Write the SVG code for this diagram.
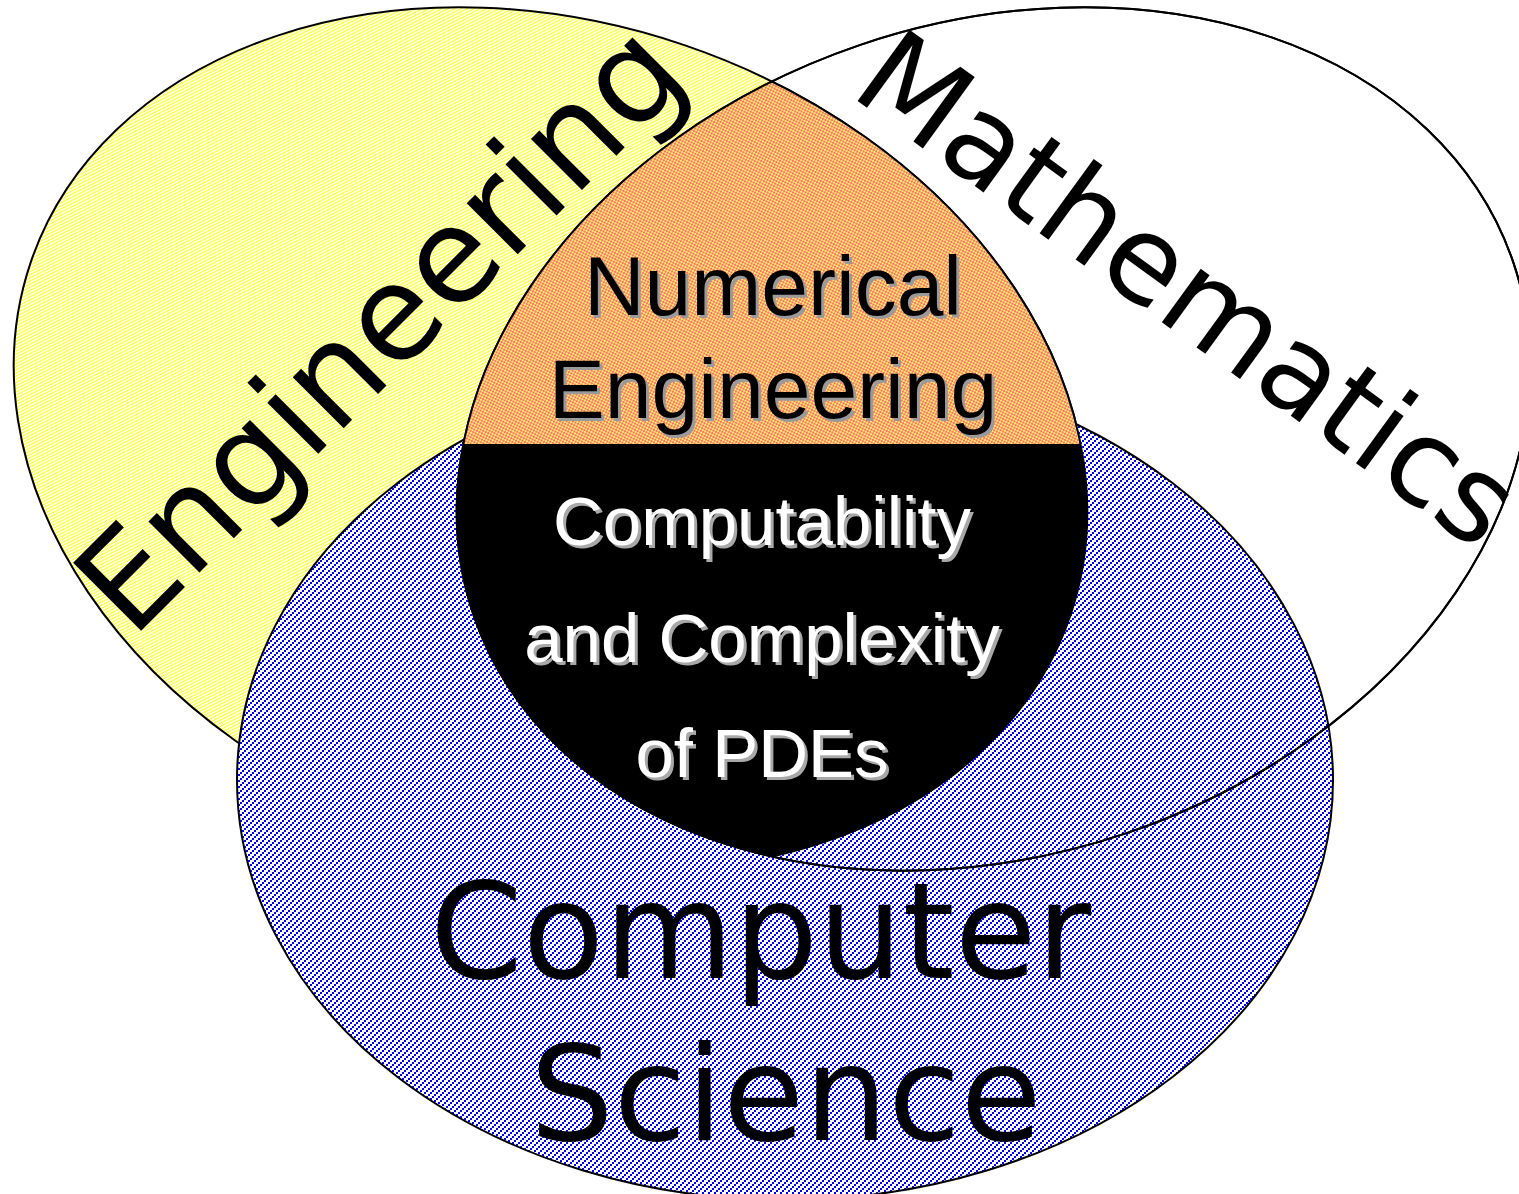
<svg xmlns="http://www.w3.org/2000/svg" width="1519" height="1194" viewBox="0 0 1519 1194">
<style>
.outline{fill:none;stroke:#000;stroke-width:2}
.big{font-family:"DejaVu Sans",Verdana,sans-serif;fill:#000}
.inner{font-family:"Liberation Sans",Arial,sans-serif;text-anchor:middle}
.shadowDark{fill:#9a9a9a}
.shadowLight{fill:#a8a8a8}
</style>
<defs>
<pattern id="pYellow" width="4" height="4" patternUnits="userSpaceOnUse">
<rect width="4" height="4" fill="#fff"/>
<path fill="#FFFF00" d="M3 0h1v1h-1z M2 1h1v1h-1z M1 2h1v1h-1z M0 3h1v1h-1z"/>
<path fill="#FFFF88" d="M2 0h1v1h-1z M1 1h1v1h-1z M0 2h1v1h-1z M3 3h1v1h-1z"/>
</pattern>
<pattern id="pBlue" width="6" height="6" patternUnits="userSpaceOnUse">
<rect width="6" height="6" fill="#fff"/>
<path fill="#0000FF" d="M4 0h2v2h-2z M2 2h2v2h-2z M0 4h2v2h-2z"/>
</pattern>
<pattern id="pOrange" width="4" height="4" patternUnits="userSpaceOnUse">
<rect width="4" height="4" fill="#FF7070"/>
<path fill="#FFEE66" d="M0 0h2v2h-2z M2 2h2v2h-2z"/>
</pattern>
<ellipse id="eYellow" cx="550.5" cy="439" rx="549" ry="416" transform="rotate(18.77 550.5 439)"/>
<ellipse id="eMath" cx="993.5" cy="439" rx="549" ry="416" transform="rotate(-18.77 993.5 439)"/>
<clipPath id="clipYellow"><use href="#eYellow"/></clipPath>
<clipPath id="clipMath"><use href="#eMath"/></clipPath>
<clipPath id="clipTop"><rect x="0" y="0" width="1519" height="444"/></clipPath>
<clipPath id="clipBottom"><rect x="0" y="444" width="1519" height="750"/></clipPath>
</defs>
<rect width="1519" height="1194" fill="#fff"/>

<g id="engineering">
<use href="#eYellow" fill="url(#pYellow)" stroke="#000" stroke-width="2"/>
</g>
<g id="computer-science">
<ellipse cx="785" cy="780" rx="548" ry="420" fill="url(#pBlue)" stroke="#000" stroke-width="2"/>
</g>
<g id="mathematics">
<use href="#eMath" class="outline"/>
</g>
<g id="numerical-engineering" clip-path="url(#clipTop)">
<g clip-path="url(#clipYellow)"><use href="#eMath" fill="url(#pOrange)"/></g>
</g>
<g id="computability" clip-path="url(#clipBottom)">
<g clip-path="url(#clipYellow)"><use href="#eMath" fill="#000"/></g>
</g>
<g id="connectors">
<use href="#eMath" class="outline"/>
<g clip-path="url(#clipMath)"><use href="#eYellow" class="outline"/></g>
</g>

<g id="labels">
<text class="big" font-size="132" transform="translate(132 640) rotate(-45)">Engineering</text>
<text class="big" font-size="121" transform="translate(848 94) rotate(36)">Mathematics</text>
<text class="big" font-size="133" x="430" y="978">Computer</text>
<text class="big" font-size="132" x="530" y="1140">Science</text>

<g class="inner" font-size="84">
<text class="shadowDark" x="776" y="318">Numerical</text>
<text x="773" y="315" fill="#000">Numerical</text>
<text class="shadowDark" x="776" y="421">Engineering</text>
<text x="773" y="418" fill="#000">Engineering</text>
</g>
<g class="inner" font-size="69">
<text class="shadowLight" x="765" y="548">Computability</text>
<text x="762" y="545" fill="#fff">Computability</text>
<text class="shadowLight" x="765" y="665">and Complexity</text>
<text x="762" y="662" fill="#fff">and Complexity</text>
<text class="shadowLight" x="765" y="780">of PDEs</text>
<text x="762" y="777" fill="#fff">of PDEs</text>
</g>
</g>
</svg>
